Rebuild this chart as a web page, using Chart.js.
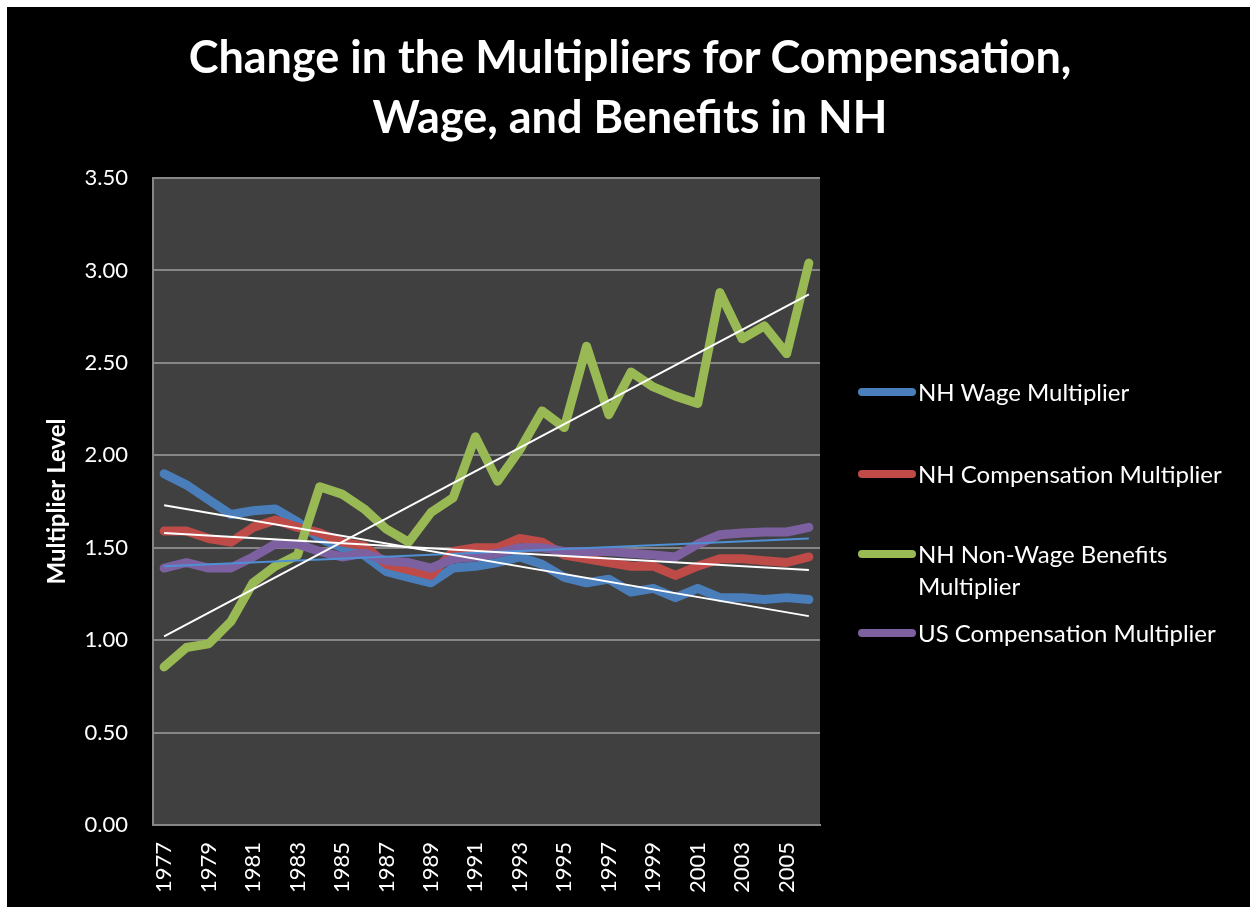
<!DOCTYPE html>
<html>
<head>
<meta charset="utf-8">
<script src="https://cdn.jsdelivr.net/npm/chart.js@4"></script>
<style>
  body { margin: 0; background: #fff; }
  #wrap { position: absolute; left: 7px; top: 7px; width: 1243px; height: 900px; background: #000; }
  #title { position: absolute; left: -7px; width: 1260px; top: 19px; text-align: center; color: #fff;
           font-family: Lato, sans-serif; font-weight: bold; font-size: 45px; line-height: 60px; }
  #legend { position: absolute; left: 0; top: 0; font-family: Lato, sans-serif; font-size: 24px; color: #fff; }
  .item { position: absolute; left: 851px; display: flex; align-items: flex-start; width: 390px; }
  .swatch { width: 58px; height: 8px; border-radius: 4px; margin-top: 12px; flex: none; }
  .label { line-height: 32px; margin-left: 2px; }
</style>
</head>
<body>
<div id="wrap">
  <canvas id="multChart" width="1243" height="900"></canvas>
  <div id="title">Change in the Multipliers for Compensation,<br>Wage, and Benefits in NH</div>
  <div id="legend"></div>
</div>
<script>
const years = ['1977','1978','1979','1980','1981','1982','1983','1984','1985','1986','1987','1988','1989','1990','1991',
  '1992','1993','1994','1995','1996','1997','1998','1999','2000','2001','2002','2003','2004','2005','2006'];

const nhWage = [1.90,1.84,1.76,1.68,1.70,1.71,1.64,1.55,1.50,1.46,1.37,1.34,1.31,1.39,1.40,
  1.42,1.45,1.41,1.34,1.31,1.33,1.26,1.28,1.23,1.28,1.23,1.23,1.22,1.23,1.22];
const nhComp = [1.59,1.59,1.55,1.53,1.61,1.65,1.61,1.58,1.53,1.51,1.41,1.38,1.35,1.48,1.50,
  1.50,1.55,1.53,1.46,1.44,1.42,1.40,1.40,1.35,1.40,1.44,1.44,1.43,1.42,1.45];
const nhNonWage = [0.855,0.96,0.98,1.10,1.31,1.40,1.46,1.83,1.79,1.71,1.60,1.53,1.69,1.77,2.10,
  1.86,2.03,2.24,2.15,2.59,2.22,2.45,2.37,2.32,2.28,2.88,2.63,2.70,2.55,3.04];
const usComp = [1.39,1.42,1.39,1.39,1.45,1.52,1.52,1.48,1.45,1.47,1.43,1.42,1.39,1.44,1.45,
  1.47,1.50,1.50,1.48,1.48,1.48,1.47,1.46,1.45,1.52,1.57,1.58,1.585,1.585,1.61];

// trendline ends (first year, last year)
const wageTrend = [1.73, 1.13];
const compTrend = [1.58, 1.38];
const nonWageTrend = [1.02, 2.87];
const usTrend = [1.40, 1.55];

const yTicks = [0, 0.5, 1, 1.5, 2, 2.5, 3, 3.5];

function ends(pair) {
  const arr = years.map(() => null);
  arr[0] = pair[0];
  arr[arr.length - 1] = pair[1];
  return arr;
}

function series(label, data, color, order) {
  return {
    label: label, data: data, borderColor: color, backgroundColor: color,
    borderWidth: 9, borderCapStyle: 'round', borderJoinStyle: 'round',
    pointRadius: 0, tension: 0, order: order
  };
}
function trend(data, color) {
  return {
    label: '', data: ends(data), borderColor: color, borderWidth: 2,
    pointRadius: 0, spanGaps: true, order: 0, trend: true
  };
}

const plotBg = {
  id: 'plotBg',
  beforeDraw(chart) {
    const a = chart.chartArea, ctx = chart.ctx;
    ctx.save();
    ctx.fillStyle = '#404040';
    ctx.fillRect(a.left, a.top, a.right - a.left, a.bottom - a.top);
    ctx.restore();
  }
};

const datasets = [
  series('NH Wage Multiplier', nhWage, '#4A7EBB', 4),
  series('NH Compensation Multiplier', nhComp, '#BE4B48', 3),
  series('NH Non-Wage Benefits Multiplier', nhNonWage, '#98B954', 2),
  series('US Compensation Multiplier', usComp, '#7D60A0', 1),
  trend(wageTrend, '#ffffff'),
  trend(compTrend, '#ffffff'),
  trend(nonWageTrend, '#ffffff'),
  trend(usTrend, '#4F8FD4')
];

const ctx = document.getElementById('multChart').getContext('2d');
const chart = new Chart(ctx, {
  type: 'line',
  data: { labels: years, datasets: datasets },
  plugins: [plotBg],
  options: {
    responsive: false,
    animation: false,
    layout: { padding: { left: 0, right: 430, top: 171, bottom: 0 } },
    plugins: {
      legend: { display: false },
      tooltip: { enabled: false },
      title: { display: false }
    },
    scales: {
      x: {
        offset: true,
        grid: { display: false, drawTicks: false },
        border: { display: true, color: '#868686', width: 2 },
        ticks: {
          color: '#fff', autoSkip: false, minRotation: 90, maxRotation: 90, padding: 17,
          font: { family: 'Lato', size: 22 },
          callback: function (v, i) { return i % 2 === 0 ? years[i] : ''; }
        },
        afterFit(scale) { scale.height = 82; }
      },
      y: {
        min: 0, max: 3.5,
        afterBuildTicks(scale) { scale.ticks = yTicks.map(v => ({ value: v })); },
        grid: { color: '#868686', lineWidth: 2, drawTicks: false },
        border: { color: '#868686', width: 2 },
        ticks: {
          color: '#fff', padding: 25,
          font: { family: 'Lato', size: 22 },
          callback: v => v.toFixed(2)
        },
        title: {
          display: true, text: 'Multiplier Level', color: '#fff',
          font: { family: 'Lato', size: 24, weight: 'bold', lineHeight: 1.2 },
          padding: { top: 36, bottom: 0 }
        },
        afterFit(scale) { scale.width = 146; }
      }
    }
  }
});

// legend in html, same order as the series
const legendTops = [369, 451, 531, 610];
const legend = document.getElementById('legend');
datasets.filter(d => !d.trend).forEach((d, i) => {
  const item = document.createElement('div');
  item.className = 'item';
  item.style.top = legendTops[i] + 'px';
  const sw = document.createElement('div');
  sw.className = 'swatch';
  sw.style.background = d.borderColor;
  const lab = document.createElement('div');
  lab.className = 'label';
  lab.style.maxWidth = '330px';
  lab.textContent = d.label;
  item.appendChild(sw);
  item.appendChild(lab);
  legend.appendChild(item);
});
</script>
</body>
</html>
